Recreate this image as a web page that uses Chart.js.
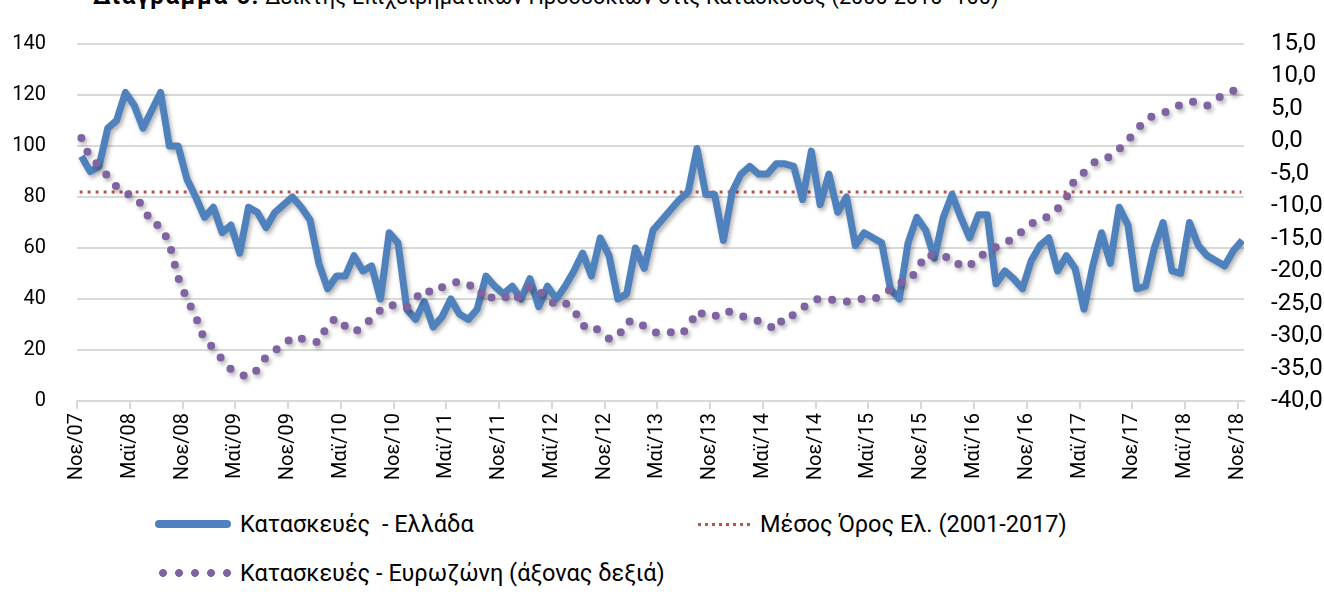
<!DOCTYPE html>
<html lang="el">
<head>
<meta charset="utf-8">
<script src="https://cdn.jsdelivr.net/npm/chart.js@4.4.1/dist/chart.umd.min.js"></script>
<style>
  html, body { margin: 0; padding: 0; background: #fff; overflow: hidden; }
  body { width: 1324px; height: 599px; position: relative; font-family: Roboto, "Noto Sans", sans-serif; }
  #title { position: absolute; left: 93px; top: -15px; font-size: 21.7px; line-height: 22px; white-space: nowrap; color: #000; }
  #title b { font-weight: bold; font-size: 24px; letter-spacing: 1.6px; }
  #chart { position: absolute; left: 0; top: 0; }
  .leg { position: absolute; display: flex; align-items: center; font-size: 23.5px; color: #000; white-space: pre; }
</style>
</head>
<body>
<div id="title"><b>Διάγραμμα 6:</b> Δείκτης Επιχειρηματικών Προσδοκιών στις Κατασκευές (2000-2010=100)</div>
<canvas id="chart" width="1345" height="481"></canvas>
<div id="legend"></div>
<script>
// ετικέτες άξονα Χ (ανά 6 μήνες, Νοε/07 - Νοε/18)
const tickLabels = ['Νοε/07', 'Μαϊ/08', 'Νοε/08', 'Μαϊ/09', 'Νοε/09', 'Μαϊ/10', 'Νοε/10', 'Μαϊ/11',
    'Νοε/11', 'Μαϊ/12', 'Νοε/12', 'Μαϊ/13', 'Νοε/13', 'Μαϊ/14', 'Νοε/14', 'Μαϊ/15', 'Νοε/15',
    'Μαϊ/16', 'Νοε/16', 'Μαϊ/17', 'Νοε/17', 'Μαϊ/18', 'Νοε/18'];

// Κατασκευές - Ελλάδα (μηνιαία, αριστερός άξονας)
const greece = [96, 90, 92, 107, 110, 121, 116, 107, 114, 121,
    100, 100, 87, 80, 72, 76, 66, 69, 58, 76,
    74, 68, 74, 77, 80, 76, 71, 54, 44, 49,
    49, 57, 51, 53, 40, 66, 62, 36, 32, 39,
    29, 33, 40, 34, 32, 36, 49, 45, 42, 45,
    40, 48, 37, 45, 40, 45, 51, 58, 49, 64,
    57, 40, 42, 60, 52, 67, 71, 75, 79, 82,
    99, 81, 81, 63, 82, 89, 92, 89, 89, 93,
    93, 92, 79, 98, 77, 89, 74, 80, 61, 66,
    64, 62, 44, 40, 62, 72, 67, 56, 72, 81,
    72, 64, 73, 73, 46, 51, 48, 44, 55, 61,
    64, 51, 57, 52, 36, 53, 66, 54, 76, 69,
    44, 45, 60, 70, 51, 50, 70, 61, 57, 55,
    53, 59, 63];

// Κατασκευές - Ευρωζώνη (δεξιός άξονας)
const eurozone = [0.5, -2.6, -3.7, -5.4, -7, -8, -8.4, -10, -12.7, -13,
    -15.7, -21, -24.3, -27, -30.6, -31.8, -33.6, -35.1, -35.9, -36.3,
    -35.2, -33.2, -32.2, -31.4, -30.1, -30.4, -30.7, -31, -28.2, -27.2,
    -28.5, -29.4, -28.6, -27.2, -26, -25.1, -25.5, -25.6, -24.2, -22.8,
    -23.4, -22.5, -21.9, -21.6, -22.2, -22.3, -24.5, -23.8, -23.8, -24.7,
    -23.6, -22.3, -23, -24.2, -25.3, -24.9, -25.9, -28.5, -28.2, -29.4,
    -30.4, -30.2, -27.8, -27.6, -28.5, -29.4, -29.6, -29.4, -29.8, -28.8,
    -26.1, -26.9, -27, -26.1, -26.3, -26.9, -27.2, -27.7, -28.3, -29,
    -26.8, -26.8, -25.7, -24.6, -24.2, -24.3, -24.6, -24.7, -24.3, -24.3,
    -24.4, -23.7, -22.8, -21.8, -21.6, -19.9, -17.4, -17.7, -17.8, -17.9,
    -19.3, -19.2, -17.7, -17.2, -16.3, -15.5, -15.1, -13.8, -12.7, -11.9,
    -11.6, -10.4, -8.7, -5.7, -4.8, -3.4, -2.6, -2.4, -1.2, 0.2,
    1.7, 3.4, 4, 4.4, 4.9, 5.7, 6.2, 6, 5.5, 6.5, 7.3, 7.8];

// Μέσος Όρος Ελλάδας 2001-2017
const greeceMean = 82;

const BLUE = '#4F81BD', RED = '#C0504D', PURPLE = '#8064A2', GRID = '#D9D9D9';
const FONT = 'Roboto, "Noto Sans", sans-serif';

// σκιά τύπου Excel στις γραμμές
const shadowPlugin = {
    id: 'shadow',
    beforeDatasetDraw(chart, args) {
        if (!chart.data.datasets[args.index].shadow) return;
        const ctx = chart.ctx;
        ctx.save();
        ctx.shadowColor = 'rgba(0,0,0,0.3)';
        ctx.shadowBlur = 4;
        ctx.shadowOffsetX = 2;
        ctx.shadowOffsetY = 3;
    },
    afterDatasetDraw(chart, args) {
        if (!chart.data.datasets[args.index].shadow) return;
        chart.ctx.restore();
    }
};

const chart = new Chart(document.getElementById('chart'), {
    type: 'line',
    data: {
        datasets: [
            {
                label: 'Κατασκευές  - Ελλάδα',
                data: greece.map((v, k) => ({ x: k + 0.5, y: v })),
                borderColor: BLUE,
                borderWidth: 7,
                borderJoinStyle: 'round',
                pointRadius: 0,
                yAxisID: 'y',
                shadow: true,
                order: 2
            },
            {
                label: 'Μέσος Όρος Ελ. (2001-2017)',
                data: [{ x: 0.3, y: greeceMean }, { x: 132.4, y: greeceMean }],
                borderColor: RED,
                borderWidth: 3,
                borderDash: [3, 5],
                pointRadius: 0,
                yAxisID: 'y',
                order: 3
            },
            {
                label: 'Κατασκευές - Ευρωζώνη (άξονας δεξιά)',
                data: eurozone.map((v, k) => ({ x: k + 0.5, y: v })),
                borderColor: PURPLE,
                borderWidth: 8,
                borderDash: [0, 15],
                borderCapStyle: 'round',
                pointRadius: 0,
                yAxisID: 'y2',
                shadow: true,
                order: 1
            }
        ]
    },
    options: {
        responsive: false,
        devicePixelRatio: 1,
        animation: false,
        layout: { padding: { top: 44, left: 0, right: 0, bottom: 0 } },
        plugins: { legend: { display: false }, tooltip: { enabled: false } },
        scales: {
            x: {
                type: 'linear',
                min: 0,
                max: 132.7,
                afterFit: (s) => { s.height = 80; },
                border: { color: GRID, width: 2 },
                grid: { drawOnChartArea: false, color: GRID, lineWidth: 2, tickLength: 8 },
                ticks: {
                    stepSize: 6,
                    includeBounds: false,
                    autoSkip: false,
                    maxRotation: 90,
                    minRotation: 90,
                    padding: 4,
                    color: '#000',
                    font: { family: FONT, size: 20 },
                    callback: (v) => tickLabels[v / 6]
                }
            },
            y: {
                position: 'left',
                min: 0,
                max: 140,
                afterFit: (s) => { s.width = 77; },
                border: { display: false },
                grid: { color: GRID, lineWidth: 2, drawTicks: false },
                ticks: { stepSize: 20, padding: 31, color: '#000', font: { family: FONT, size: 20 } }
            },
            y2: {
                position: 'right',
                min: -40,
                max: 15,
                afterFit: (s) => { s.width = 101; },
                border: { display: false },
                grid: { drawOnChartArea: false, drawTicks: false },
                ticks: {
                    stepSize: 5,
                    padding: 27,
                    color: '#000',
                    font: { family: FONT, size: 24 },
                    callback: (v) => v.toFixed(1).replace('.', ',')
                }
            }
        }
    },
    plugins: [shadowPlugin]
});

// υπόμνημα (δύο στήλες όπως στο πρωτότυπο)
const legendPos = [
    { left: 155, top: 524, text: 240, w: 76, sample: 'background:' + BLUE + ';height:8px;border-radius:4px;' },
    { left: 698, top: 524, text: 760, w: 56, sample: 'height:3px;background:repeating-linear-gradient(to right,' + RED + ' 0 3px,transparent 3px 7px);' },
    { left: 155, top: 573, text: 240, w: 78, sample: 'height:8px;background:radial-gradient(circle,' + PURPLE + ' 3.6px,transparent 4.2px) 0 0/16px 8px repeat-x;' }
];
const legend = document.getElementById('legend');
chart.data.datasets.forEach((ds, i) => {
    const p = legendPos[i];
    const item = document.createElement('div');
    item.className = 'leg';
    item.style.left = p.left + 'px';
    item.style.top = (p.top - 15) + 'px';
    item.style.height = '30px';
    item.innerHTML = '<span style="width:' + p.w + 'px;margin-right:' + (p.text - p.left - p.w) + 'px;' + p.sample + '"></span>' + ds.label;
    legend.appendChild(item);
});
</script>
</body>
</html>
